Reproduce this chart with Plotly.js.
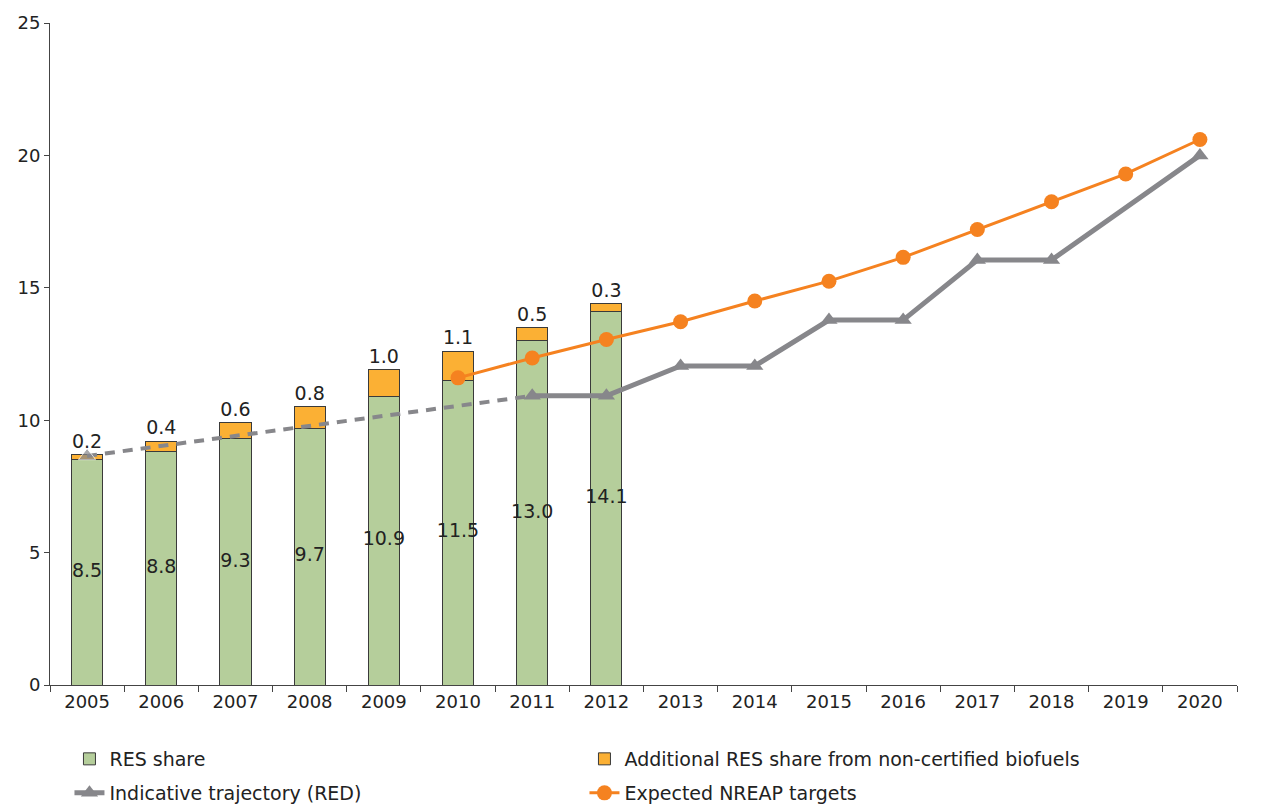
<!DOCTYPE html>
<html>
<head>
<meta charset="utf-8">
<script src="https://cdn.plot.ly/plotly-3.0.1.min.js"></script>
<style>html,body{margin:0;padding:0;background:#fff;}#chart{width:1263px;height:806px;}</style>
</head>
<body>
<div id="chart"></div>
<script>
const years = ["2005","2006","2007","2008","2009","2010","2011","2012","2013","2014","2015","2016","2017","2018","2019","2020"];
const barYears = ["2005","2006","2007","2008","2009","2010","2011","2012"];
const resShare = [8.5, 8.8, 9.3, 9.7, 10.9, 11.5, 13.0, 14.1];
const additional = [0.2, 0.4, 0.6, 0.8, 1.0, 1.1, 0.5, 0.3];
const trajDashedYears = ["2005","2011"];
const trajDashed = [8.65, 10.92];
const trajYears = ["2011","2012","2013","2014","2015","2016","2017","2018","2020"];
const traj = [10.92, 10.92, 12.05, 12.05, 13.78, 13.78, 16.05, 16.05, 20.0];
const nreapYears = ["2010","2011","2012","2013","2014","2015","2016","2017","2018","2019","2020"];
const nreap = [11.6, 12.35, 13.05, 13.72, 14.5, 15.25, 16.15, 17.2, 18.25, 19.3, 20.6];
const endLabels = ["20.6", "20.0"];

const fam = "DejaVu Sans, Verdana, sans-serif";
const tickFont = {family: fam, size: 18, color: "#222"};
const labelFont = {family: fam, size: 19, color: "#222"};
const legendFont = {family: fam, size: 19, color: "#222"};
const green = "#b5ce9b", orange = "#fbb034", gray = "#87878b", lineOrange = "#f58220";

const traces = [
  {type: "bar", name: "RES share", x: barYears, y: resShare,
   marker: {color: green, line: {color: "#3a3a3a", width: 1}},
   width: 0.42, legend: "legend", hoverinfo: "skip"},
  {type: "bar", name: "Additional RES share from non-certified biofuels", x: barYears, y: additional,
   marker: {color: orange, line: {color: "#3a3a3a", width: 1}},
   width: 0.42, text: additional.map(v => v.toFixed(1)), textposition: "outside",
   constraintext: "none", cliponaxis: false, textfont: labelFont, legend: "legend", hoverinfo: "skip"},
  {type: "scatter", mode: "text", x: barYears, y: resShare.map(v => v / 2),
   text: resShare.map(v => v.toFixed(1)), textfont: labelFont, showlegend: false, hoverinfo: "skip", cliponaxis: false},
  {type: "scatter", mode: "lines+markers", x: trajDashedYears, y: trajDashed,
   line: {color: gray, width: 4, dash: "10px,8px"},
   marker: {symbol: "triangle-up", size: [15, 0], color: gray},
   showlegend: false, hoverinfo: "skip", cliponaxis: false},
  {type: "scatter", mode: "lines+markers", name: "Indicative trajectory (RED)", x: trajYears, y: traj,
   line: {color: gray, width: 5}, marker: {symbol: "triangle-up", size: 15, color: gray},
   legend: "legend2", hoverinfo: "skip", cliponaxis: false},
  {type: "scatter", mode: "lines+markers", name: "Expected NREAP targets", x: nreapYears, y: nreap,
   line: {color: lineOrange, width: 3}, marker: {symbol: "circle", size: 15, color: lineOrange},
   legend: "legend2", hoverinfo: "skip", cliponaxis: false}
];

const layout = {
  width: 1263, height: 806,
  margin: {l: 50, r: 26, t: 23, b: 121},
  paper_bgcolor: "#fff", plot_bgcolor: "#fff",
  font: tickFont,
  barmode: "stack",
  showlegend: true,
  xaxis: {type: "category", categoryorder: "array", categoryarray: years, range: [-0.5, 15.5],
    showline: true, linecolor: "#444", linewidth: 1, ticks: "outside", tickson: "boundaries",
    ticklen: 6, tickcolor: "#444", showgrid: false, zeroline: false, tickfont: tickFont, fixedrange: true,
    automargin: false},
  yaxis: {range: [0, 25], dtick: 5, showline: true, linecolor: "#444", linewidth: 1,
    ticks: "outside", ticklen: 5, tickcolor: "#444", showgrid: false, zeroline: false,
    tickfont: tickFont, fixedrange: true, automargin: false},
  legend: {orientation: "h", xref: "container", yref: "container", x: 0.055, xanchor: "left",
    y: 1 - 759 / 806, yanchor: "middle", traceorder: "normal",
    entrywidth: 470, entrywidthmode: "pixels", font: legendFont, bgcolor: "rgba(0,0,0,0)"},
  legend2: {orientation: "h", xref: "container", yref: "container", x: 0.055, xanchor: "left",
    y: 1 - 793 / 806, yanchor: "middle", traceorder: "normal",
    entrywidth: 470, entrywidthmode: "pixels", font: legendFont, bgcolor: "rgba(0,0,0,0)"},
  annotations: [
    {x: "2020", y: nreap[nreap.length - 1], text: endLabels[0], showarrow: false, xanchor: "left",
     xshift: 16, yshift: 11, font: labelFont},
    {x: "2020", y: traj[traj.length - 1], text: endLabels[1], showarrow: false, xanchor: "left",
     xshift: 16, yshift: 0, font: labelFont}
  ]
};

Plotly.newPlot("chart", traces, layout, {displayModeBar: false, staticPlot: true});
</script>
</body>
</html>
